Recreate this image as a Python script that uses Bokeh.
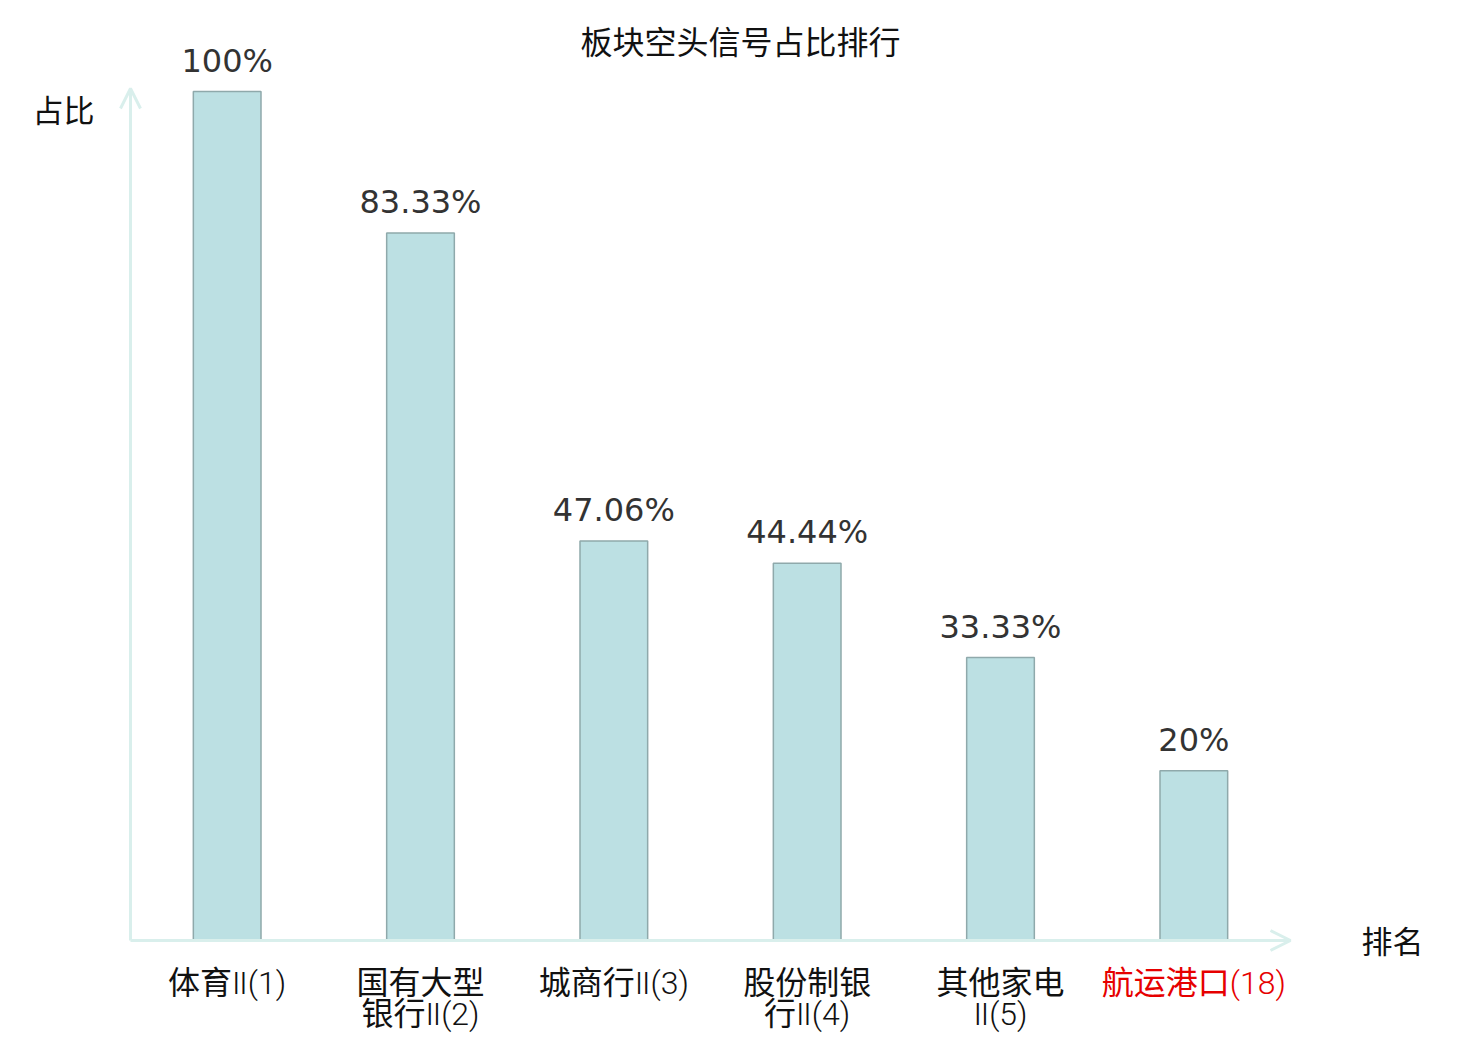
from bokeh.plotting import figure
from bokeh.models import Range1d, Arrow, OpenHead, ColumnDataSource
from bokeh.core.properties import value
from bokeh.embed import file_html
from bokeh.resources import INLINE

# ---- data ----
title_text = "板块空头信号占比排行"
categories = ["体育Ⅱ(1)", "国有大型\n银行Ⅱ(2)", "城商行Ⅱ(3)", "股份制银\n行Ⅱ(4)", "其他家电\nⅡ(5)", "航运港口(18)"]
values = [100, 83.33, 47.06, 44.44, 33.33, 20]
value_labels = ["100%", "83.33%", "47.06%", "44.44%", "33.33%", "20%"]
label_colors = ["#111111", "#111111", "#111111", "#111111", "#111111", "#E60000"]
y_label = "占比"
x_label = "排名"

# ---- layout ----
W, H = 1464, 1036
origin_x, origin_y = 130, 940          # figure px of the axes origin
unit_x = 1160 / len(categories)        # px per category band
unit_y = 849 / 100                     # px per percent
y_axis_top = 100.35

p = figure(width=W, height=H, output_backend="svg", toolbar_location=None,
           x_axis_type=None, y_axis_type=None, min_border=0,
           x_range=Range1d(-origin_x / unit_x, (W - origin_x) / unit_x),
           y_range=Range1d(-(H - origin_y) / unit_y, origin_y / unit_y))
p.grid.visible = False
p.outline_line_color = None
p.background_fill_color = "white"
p.border_fill_color = "white"

xs = [i + 0.5 for i in range(len(categories))]
src = ColumnDataSource(dict(x=xs, top=values, lab=value_labels, cat=categories,
                            col=label_colors, zero=[0] * len(xs)))

axis_col = "#D9EFEC"
p.add_layout(Arrow(x_start=0, y_start=0, x_end=len(categories), y_end=0,
                   line_color=axis_col, line_width=3,
                   end=OpenHead(size=20, line_color=axis_col, line_width=3)))
p.add_layout(Arrow(x_start=0, y_start=0, x_end=0, y_end=y_axis_top,
                   line_color=axis_col, line_width=3,
                   end=OpenHead(size=20, line_color=axis_col, line_width=3)))

p.vbar(x="x", top="top", bottom=0, width=0.35, source=src,
       fill_color="#BCE0E3", line_color="#8FA9AB", line_width=1.5)

p.text(x="x", y="top", text="lab", source=src, y_offset=-31,
       text_align="center", text_baseline="alphabetic",
       text_font=value("DejaVu Sans"), text_font_size="32px", text_color="#333333")

p.text(x="x", y="zero", text="cat", source=src, y_offset=23,
       text_align="center", text_baseline="top", text_line_height=0.84,
       text_font=value("Roboto Light, Noto Sans CJK SC"), text_font_size="32px",
       text_color="col")

p.text(x=[(p.x_range.start + p.x_range.end) / 2], y=[p.y_range.end], text=[title_text],
       x_offset=8, y_offset=39, text_align="center", text_baseline="middle",
       text_font=value("Noto Sans CJK SC"), text_font_size="32px", text_color="#111111")

p.text(x=[0], y=[y_axis_top], text=[y_label], x_offset=-67, y_offset=20,
       text_align="center", text_baseline="middle",
       text_font=value("Noto Sans CJK SC"), text_font_size="31px", text_color="#111111")

p.text(x=[len(categories)], y=[0], text=[x_label], x_offset=102, y_offset=-1,
       text_align="center", text_baseline="middle",
       text_font=value("Noto Sans CJK SC"), text_font_size="31px", text_color="#111111")

open("out.html", "w").write(file_html(p, INLINE))
